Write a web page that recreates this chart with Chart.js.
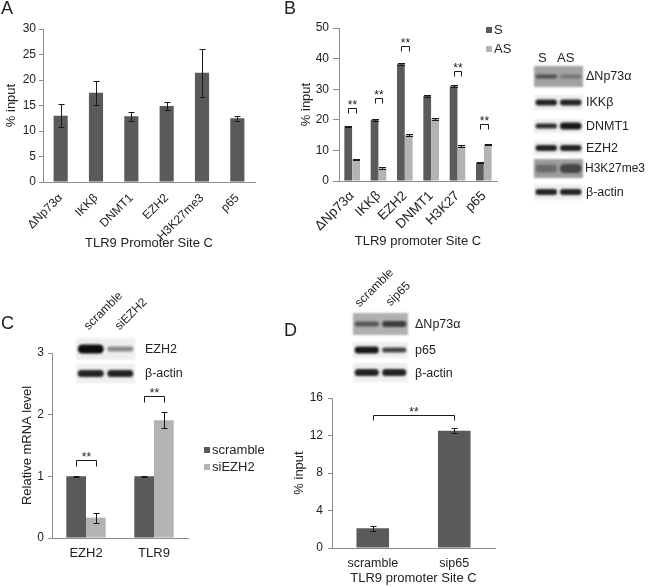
<!DOCTYPE html>
<html>
<head>
<meta charset="utf-8">
<script src="https://cdn.jsdelivr.net/npm/chart.js@4.4.1/dist/chart.umd.min.js"></script>
<style>
body { margin: 0; background: #fff; font-family: "Liberation Sans", Arial, sans-serif; color: #222; }
#page { position: relative; width: 650px; height: 587px; overflow: hidden; }
#page canvas { position: absolute; }
.lbl { position: absolute; font-size: 12.5px; line-height: 13px; white-space: nowrap; }
.panel { position: absolute; font-size: 18px; line-height: 18px; }
.rot { position: absolute; font-size: 12px; line-height: 12px; white-space: nowrap; transform-origin: 0 100%; transform: rotate(-45deg); }
.key { position: absolute; font-size: 13px; line-height: 13px; white-space: nowrap; }
.key i { display: inline-block; width: 6px; height: 6px; margin-right: 2px; vertical-align: 1px; }
</style>
</head>
<body>
<div id="page">
  <canvas id="blots" width="650" height="587" style="left:0;top:0"></canvas>

  <div class="panel" style="left:1px;top:-1px">A</div>
  <div class="panel" style="left:284px;top:-1px">B</div>
  <div class="panel" style="left:1px;top:314px">C</div>
  <div class="panel" style="left:284px;top:321px">D</div>

  <!-- panel B blot -->
  <div class="lbl" style="left:538px;top:51px;font-size:13px">S</div>
  <div class="lbl" style="left:557px;top:51px;font-size:13px">AS</div>
  <div class="lbl" style="left:586px;top:70px">ΔNp73α</div>
  <div class="lbl" style="left:586px;top:96px">IKKβ</div>
  <div class="lbl" style="left:586px;top:120px">DNMT1</div>
  <div class="lbl" style="left:586px;top:142px">EZH2</div>
  <div class="lbl" style="left:585px;top:162px;font-size:12px">H3K27me3</div>
  <div class="lbl" style="left:586px;top:186px">β-actin</div>
  <div class="key" style="left:486px;top:23px"><i style="background:#5a5a5a"></i>S</div>
  <div class="key" style="left:486px;top:42px"><i style="background:#b3b3b3"></i>AS</div>

  <!-- panel C blot -->
  <div class="rot" style="left:90px;top:320px">scramble</div>
  <div class="rot" style="left:121px;top:320px">siEZH2</div>
  <div class="lbl" style="left:145px;top:343px">EZH2</div>
  <div class="lbl" style="left:145px;top:367px">β-actin</div>
  <div class="key" style="left:204px;top:443px"><i style="background:#5a5a5a"></i>scramble</div>
  <div class="key" style="left:204px;top:460px"><i style="background:#b3b3b3"></i>siEZH2</div>

  <!-- panel D blot -->
  <div class="rot" style="left:361px;top:297px">scramble</div>
  <div class="rot" style="left:392px;top:296px">sip65</div>
  <div class="lbl" style="left:415px;top:318px">ΔNp73α</div>
  <div class="lbl" style="left:415px;top:344px">p65</div>
  <div class="lbl" style="left:415px;top:367px">β-actin</div>
</div>

<script>
// ChIP / qPCR figure, four panels, drawn with Chart.js

// Panel A: ChIP at TLR9 promoter site C
const aLabels = ['ΔNp73α', 'IKKβ', 'DNMT1', 'EZH2', 'H3K27me3', 'p65'];
const aValues = [13.0, 17.5, 12.9, 14.9, 21.4, 12.5];
const aErrors = [2.3, 2.4, 0.9, 0.7, 4.7, 0.5];
const aTicks = [0, 30, 5];   // min, max, step

// Panel B: S vs AS
const bLabels = ['ΔNp73α', 'IKKβ', 'EZH2', 'DNMT1', 'H3K27', 'p65'];
const bSense = [17.8, 20.0, 38.2, 27.8, 31.0, 6.0];
const bAntisense = [7.0, 4.2, 15.0, 20.3, 11.4, 12.0];
const bSenseErr = [0.25, 0.25, 0.25, 0.25, 0.25, 0.25];
const bAntisenseErr = [0.25, 0.25, 0.25, 0.25, 0.25, 0.25];
const bSigGroups = [0, 1, 2, 4, 5];
const bSigTops = [24, 27, 44, 36, 18.6];
const bTicks = [0, 50, 10];

// Panel C: relative mRNA after EZH2 knockdown
const cLabels = ['EZH2', 'TLR9'];
const cScramble = [1.0, 1.0];
const cSiEZH2 = [0.33, 1.91];
const cScrambleErr = [0.006, 0.006];
const cSiEZH2Err = [0.08, 0.13];
const cSigTops = [1.26, 2.30];
const cTicks = [0, 3, 1];

// Panel D: p65 knockdown
const dLabels = ['scramble', 'sip65'];
const dValues = [2.1, 12.5];
const dErrors = [0.25, 0.25];
const dSigTop = 14.2;
const dTicks = [0, 16, 4];

const DARK = '#5a5a5a';
const LIGHT = '#b3b3b3';
const AXIS = '#8c8c8c';
const TEXT = '#222';
const FONT = '"Liberation Sans", Arial, sans-serif';

Chart.defaults.font.family = FONT;
Chart.defaults.color = TEXT;

// error bars drawn from the y scale
const errorBarPlugin = {
    id: 'errorBars',
    afterDatasetsDraw(chart, args, opts) {
        const ctx = chart.ctx;
        const y = chart.scales.y;
        const c = opts.cap / 2;
        ctx.save();
        ctx.strokeStyle = '#1a1a1a';
        ctx.lineWidth = 1;
        (opts.errors || []).forEach((errs, di) => {
            const meta = chart.getDatasetMeta(di);
            meta.data.forEach((bar, i) => {
                const v = chart.data.datasets[di].data[i];
                const top = Math.round(y.getPixelForValue(v + errs[i])) + 0.5;
                const bot = Math.round(y.getPixelForValue(v - errs[i])) + 0.5;
                const x = Math.round(bar.x) + 0.5;
                ctx.beginPath();
                ctx.moveTo(x, top); ctx.lineTo(x, bot);
                ctx.moveTo(x - c, top); ctx.lineTo(x + c, top);
                ctx.moveTo(x - c, bot); ctx.lineTo(x + c, bot);
                ctx.stroke();
            });
        });
        ctx.restore();
    }
};

// significance brackets with "**"
const sigPlugin = {
    id: 'sigBrackets',
    afterDatasetsDraw(chart, args, opts) {
        const ctx = chart.ctx;
        const y = chart.scales.y;
        ctx.save();
        ctx.strokeStyle = '#1a1a1a';
        ctx.fillStyle = '#1a1a1a';
        ctx.lineWidth = 1;
        ctx.font = '12px ' + FONT;
        ctx.textAlign = 'center';
        ctx.textBaseline = 'bottom';
        (opts.brackets || []).forEach(b => {
            const x1 = Math.round(chart.getDatasetMeta(b.from[0]).data[b.from[1]].x) + 0.5;
            const x2 = Math.round(chart.getDatasetMeta(b.to[0]).data[b.to[1]].x) + 0.5;
            const yy = Math.round(y.getPixelForValue(b.top)) + 0.5;
            ctx.beginPath();
            ctx.moveTo(x1, yy + opts.drop);
            ctx.lineTo(x1, yy);
            ctx.lineTo(x2, yy);
            ctx.lineTo(x2, yy + opts.drop);
            ctx.stroke();
            ctx.fillText('**', (x1 + x2) / 2, yy + 3);
        });
        ctx.restore();
    }
};

function yAxis(ticks, title, width, tickLen, pad) {
    return {
        min: ticks[0],
        max: ticks[1],
        ticks: { stepSize: ticks[2], color: TEXT, font: { size: 12 }, padding: pad },
        grid: { display: true, drawOnChartArea: false, drawTicks: true, tickLength: tickLen, color: AXIS },
        border: { display: true, color: AXIS },
        title: { display: !!title, text: title, color: TEXT, font: { size: 13 }, padding: { top: 4, bottom: 4 } },
        afterFit(s) { s.width = width; }
    };
}

function xAxis(height, rotation, pad, title, size) {
    return {
        grid: { display: true, drawOnChartArea: false, drawTicks: false },
        border: { display: true, color: AXIS },
        ticks: { color: TEXT, font: { size: size || 12 }, padding: pad, minRotation: rotation, maxRotation: rotation, autoSkip: false },
        title: { display: !!title, text: title, color: TEXT, font: { size: 13 }, padding: { top: 0, bottom: 1 } },
        afterFit(s) { s.height = height; }
    };
}

function addCanvas(id, left, top, w, h) {
    const c = document.createElement('canvas');
    c.id = id;
    c.width = w;
    c.height = h;
    c.style.left = left + 'px';
    c.style.top = top + 'px';
    document.getElementById('page').appendChild(c);
    return c;
}

function baseOptions(padding, x, y, extra) {
    return {
        responsive: false,
        animation: false,
        devicePixelRatio: 1,
        layout: { padding: padding },
        plugins: Object.assign({ legend: { display: false }, tooltip: { enabled: false } }, extra),
        scales: { x: x, y: y }
    };
}

// Panel A
new Chart(addCanvas('chartA', 0, 0, 265, 252), {
    type: 'bar',
    data: {
        labels: aLabels,
        datasets: [{ data: aValues, backgroundColor: DARK, barPercentage: 1, categoryPercentage: 0.4 }]
    },
    options: baseOptions(
        { left: 0, top: 29, right: 10, bottom: 0 },
        xAxis(70, 45, 9, 'TLR9 Promoter Site C', 12),
        yAxis(aTicks, '% input', 43, 4, 3),
        { errorBars: { errors: [aErrors], cap: 6 } }
    ),
    plugins: [errorBarPlugin]
});

// Panel B
new Chart(addCanvas('chartB', 295, 0, 215, 250), {
    type: 'bar',
    data: {
        labels: bLabels,
        datasets: [
            { label: 'S', data: bSense, backgroundColor: DARK, barPercentage: 0.98, categoryPercentage: 0.6 },
            { label: 'AS', data: bAntisense, backgroundColor: LIGHT, barPercentage: 0.98, categoryPercentage: 0.6 }
        ]
    },
    options: baseOptions(
        { left: 0, top: 28, right: 13, bottom: 0 },
        xAxis(69, 45, 7, 'TLR9 promoter Site C', 13.5),
        yAxis(bTicks, '% input', 44, 6, 4),
        {
            errorBars: { errors: [bSenseErr, bAntisenseErr], cap: 7 },
            sigBrackets: {
                drop: 5,
                brackets: bSigGroups.map((g, k) => ({ from: [0, g], to: [1, g], top: bSigTops[k] }))
            }
        }
    ),
    plugins: [errorBarPlugin, sigPlugin]
});

// Panel C
new Chart(addCanvas('chartC', 16, 330, 180, 235), {
    type: 'bar',
    data: {
        labels: cLabels,
        datasets: [
            { label: 'scramble', data: cScramble, backgroundColor: DARK, barPercentage: 1, categoryPercentage: 0.58 },
            { label: 'siEZH2', data: cSiEZH2, backgroundColor: LIGHT, barPercentage: 1, categoryPercentage: 0.58 }
        ]
    },
    options: baseOptions(
        { left: 0, top: 23, right: 8, bottom: 0 },
        xAxis(27, 0, 8, '', 13),
        yAxis(cTicks, 'Relative mRNA level', 36, 4, 4),
        {
            errorBars: { errors: [cScrambleErr, cSiEZH2Err], cap: 6 },
            sigBrackets: {
                drop: 6,
                brackets: cSigTops.map((t, k) => ({ from: [0, k], to: [1, k], top: t }))
            }
        }
    ),
    plugins: [errorBarPlugin, sigPlugin]
});

// Panel D
new Chart(addCanvas('chartD', 288, 385, 215, 202), {
    type: 'bar',
    data: {
        labels: dLabels,
        datasets: [{ data: dValues, backgroundColor: DARK, barPercentage: 1, categoryPercentage: 0.4 }]
    },
    options: baseOptions(
        { left: 0, top: 13, right: 8, bottom: 0 },
        xAxis(39, 0, 8, 'TLR9 promoter Site C', 12.5),
        yAxis(dTicks, '% input', 44, 4, 5),
        {
            errorBars: { errors: [dErrors], cap: 6 },
            sigBrackets: { drop: 5, brackets: [{ from: [0, 0], to: [0, 1], top: dSigTop }] }
        }
    ),
    plugins: [errorBarPlugin, sigPlugin]
});

// western blot strips (pictures, not chart data)
const blots = [
    // B
    { x: 534, y: 66, w: 49, h: 21, bg: '#a3a3a3', dark: [0.55, 0.3], thick: [4, 4] },
    { x: 534, y: 95, w: 49, h: 15, bg: '#eeeeee', dark: [0.9, 0.9], thick: [6, 6] },
    { x: 534, y: 119, w: 49, h: 14, bg: '#eeeeee', dark: [0.85, 0.95], thick: [5, 7] },
    { x: 534, y: 141, w: 49, h: 14, bg: '#eeeeee', dark: [0.9, 0.9], thick: [6, 6] },
    { x: 534, y: 159, w: 49, h: 19, bg: '#9c9c9c', dark: [0.35, 0.6], thick: [8, 9] },
    { x: 534, y: 184, w: 49, h: 16, bg: '#eeeeee', dark: [0.9, 0.9], thick: [6, 6] },
    // C
    { x: 76, y: 338, w: 59, h: 22, bg: '#eeeeee', dark: [1.0, 0.45], thick: [9, 5] },
    { x: 76, y: 364, w: 59, h: 19, bg: '#eeeeee', dark: [0.9, 0.9], thick: [7, 7] },
    // D
    { x: 353, y: 313, w: 55, h: 22, bg: '#b0b0b0', dark: [0.55, 0.7], thick: [5, 6] },
    { x: 353, y: 342, w: 55, h: 16, bg: '#eeeeee', dark: [0.95, 0.75], thick: [7, 5] },
    { x: 353, y: 363, w: 55, h: 19, bg: '#eeeeee', dark: [0.9, 0.9], thick: [7, 7] }
];

function drawBlots() {
    const ctx = document.getElementById('blots').getContext('2d');
    blots.forEach(b => {
        ctx.save();
        ctx.filter = 'blur(0.8px)';
        ctx.fillStyle = b.bg;
        ctx.fillRect(b.x, b.y, b.w, b.h);
        ctx.restore();
        const lw = b.w / 2;
        b.dark.forEach((d, i) => {
            const cx = b.x + lw * (i + 0.5);
            const cy = b.y + b.h / 2;
            const t = b.thick[i];
            ctx.save();
            ctx.filter = 'blur(1.3px)';
            ctx.fillStyle = 'rgba(12,12,12,' + d + ')';
            ctx.beginPath();
            ctx.roundRect(cx - lw * 0.44, cy - t / 2, lw * 0.88, t, t / 2);
            ctx.fill();
            ctx.restore();
        });
    });
}
drawBlots();
</script>
</body>
</html>
